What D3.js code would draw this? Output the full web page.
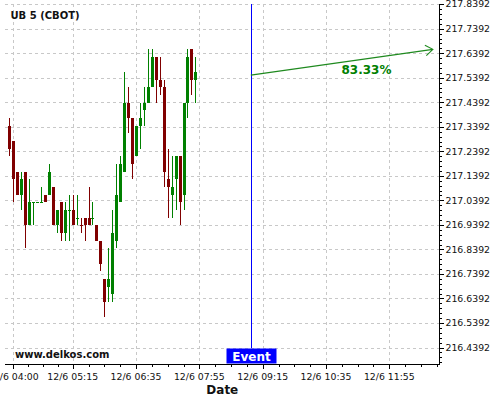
<!DOCTYPE html>
<html><head><meta charset="utf-8">
<script src="https://cdn.jsdelivr.net/npm/d3@7"></script>
<style>body{margin:0;background:#fff}svg{display:block;font-family:"DejaVu Sans",sans-serif}</style>
</head><body><svg id="c" width="500" height="400"></svg>
<script>
// ---- data ----
const title = "UB 5 (CBOT)";
const times = ["03:55","04:00","04:05","04:10","04:15","04:20","04:25","04:30","04:35","04:40","04:45","04:50",
  "04:55","05:00","05:05","05:10","05:15","05:20","05:25","05:30","05:35","05:40","05:45","05:50",
  "05:55","06:00","06:05","06:10","06:15","06:20","06:25","06:30","06:35","06:40","06:45","06:50",
  "06:55","07:00","07:05","07:10","07:15","07:20","07:25","07:30","07:35","07:40","07:45","07:50"];
const opens = [217.34375,217.28125,217.15625,217.0625,217.15625,216.9375,217.03125,217.03125,217.03125,217.0625,217.0625,217.09375,
  216.9375,217.03125,216.90625,217.0,217.0,216.96875,216.9375,216.96875,216.96875,216.96875,216.9375,216.875,
  216.71875,216.6875,216.65625,216.875,217.03125,217.15625,217.4375,217.375,217.21875,217.34375,217.40625,217.4375,
  217.5,217.625,217.53125,217.5,217.125,217.0625,217.125,217.21875,217.0625,217.4375,217.65625,217.53125];
const highs = [217.375,217.28125,217.15625,217.15625,217.15625,217.125,217.03125,217.03125,217.09375,217.0625,217.1875,217.09375,
  217.0,217.03125,217.03125,217.0625,217.0625,217.0625,216.96875,216.96875,217.09375,217.03125,216.9375,216.875,
  216.71875,216.84375,217.0,217.1875,217.21875,217.5625,217.5,217.375,217.34375,217.4375,217.5,217.65625,
  217.65625,217.625,217.625,217.53125,217.25,217.21875,217.21875,217.21875,217.4375,217.65625,217.65625,217.625];
const lows = [217.21875,217.03125,217.0625,217.0,216.84375,216.9375,216.9375,217.03125,217.03125,217.03125,217.0625,216.9375,
  216.90625,216.875,216.875,216.875,216.9375,216.9375,216.90625,216.875,216.9375,216.9375,216.875,216.75,
  216.5625,216.625,216.625,216.84375,217.03125,217.15625,217.3125,217.125,217.21875,217.25,217.34375,217.4375,
  217.5,217.4375,217.46875,217.09375,216.96875,216.96875,217.0,216.9375,217.0,217.375,217.46875,217.4375];
const closes = [217.25,217.125,217.0625,217.125,216.9375,217.03125,217.03125,217.03125,217.03125,217.03125,217.15625,216.9375,
  217.0,216.90625,217.0,217.0,216.9375,216.96875,216.9375,216.9375,216.9375,216.96875,216.875,216.78125,
  216.625,216.71875,216.90625,217.0625,217.1875,217.4375,217.375,217.1875,217.34375,217.375,217.4375,217.5,
  217.625,217.53125,217.5,217.15625,217.09375,217.09375,217.21875,217.03125,217.4375,217.625,217.53125,217.5625];
const xTickTimes = ["04:00","05:15","06:35","07:55","09:15","10:35","11:55"];
const xTickLabels = ["12/6 04:00","12/6 05:15","12/6 06:35","12/6 07:55","12/6 09:15","12/6 10:35","12/6 11:55"];
const yTickValues = [216.4392,216.5392,216.6392,216.7392,216.8392,216.9392,217.0392,217.1392,217.2392,217.3392,217.4392,217.5392,217.6392,217.7392,217.8392];
const eventTime = "09:00";
const eventLabel = "Event";
const arrowTimes = ["09:00","12:50"];
const arrowPrices = [217.55,217.655];
const arrowLabel = "83.33%";
const watermark = "www.delkos.com";
const xTitle = "Date";

// ---- layout ----
const svg = d3.select("#c");
const parse = d3.timeParse("%H:%M");
const pL = 5.4, pR = 439.2, pT = 4, pB = 364;
const x = d3.scaleTime().domain([parse("03:50"), parse("12:58")]).range([pL, pR]);
const y = d3.scaleLinear().domain([216.372, 217.84]).range([pB, pT]);
const up = "#008000", down = "#800000", grid = "#c8c8c8";

// grid
const gx = xTickTimes.map(parse);
svg.append("g").selectAll("line").data(yTickValues).join("line")
  .attr("x1", pL).attr("x2", pR).attr("y1", d => Math.round(y(d)) + 0.5).attr("y2", d => Math.round(y(d)) + 0.5)
  .attr("stroke", grid).attr("stroke-dasharray", "3,3").attr("shape-rendering", "crispEdges");
svg.append("g").selectAll("line").data(gx).join("line")
  .attr("x1", d => Math.round(x(d)) + 0.5).attr("x2", d => Math.round(x(d)) + 0.5).attr("y1", pT).attr("y2", pB)
  .attr("stroke", grid).attr("stroke-dasharray", "3,3").attr("shape-rendering", "crispEdges");

// title + watermark
svg.append("text").attr("x", 10.5).attr("y", 19.3).attr("font-size", 10).attr("font-weight", "bold").attr("fill", "#111").text(title);
svg.append("text").attr("x", 15).attr("y", 357.5).attr("font-size", 10).attr("font-weight", "bold").attr("fill", "#111").text(watermark);

// candles
const data = times.map((t, i) => ({t: parse(t), o: opens[i], h: highs[i], l: lows[i], c: closes[i],
  upc: closes[i] > opens[i] || (closes[i] === opens[i] && (i === 0 || closes[i] >= closes[i - 1]))}));
const cg = svg.append("g").attr("shape-rendering", "crispEdges");
cg.selectAll("line").data(data).join("line")
  .attr("x1", d => Math.round(x(d.t)) + 0.5).attr("x2", d => Math.round(x(d.t)) + 0.5)
  .attr("y1", d => y(d.h)).attr("y2", d => y(d.l))
  .attr("stroke", d => d.upc ? up : down).attr("stroke-width", 1);
cg.selectAll("rect").data(data).join("rect")
  .attr("x", d => Math.round(x(d.t)) - 1).attr("width", 3)
  .attr("y", d => y(Math.max(d.o, d.c)))
  .attr("height", d => Math.max(1, Math.abs(y(d.o) - y(d.c))))
  .attr("fill", d => d.upc ? up : down);

// event line + box
const ex = Math.round(x(parse(eventTime))) + 0.5;
svg.append("line").attr("x1", ex).attr("x2", ex).attr("y1", pT).attr("y2", 348)
  .attr("stroke", "#0000ff").attr("shape-rendering", "crispEdges");
svg.append("rect").attr("x", ex - 25).attr("y", 348.5).attr("width", 50).attr("height", 15).attr("fill", "#0000ff");
svg.append("text").attr("x", ex).attr("y", 361).attr("text-anchor", "middle").attr("font-size", 12)
  .attr("font-weight", "bold").attr("fill", "#fff").text(eventLabel);

// arrow
const ax0 = x(parse(arrowTimes[0])), ay0 = y(arrowPrices[0]), ax1 = x(parse(arrowTimes[1])), ay1 = y(arrowPrices[1]);
const ang = Math.atan2(ay1 - ay0, ax1 - ax0), hl = 9, ha = 0.62;
svg.append("path")
  .attr("d", `M${ax0},${ay0}L${ax1},${ay1}M${ax1 - hl * Math.cos(ang - ha)},${ay1 - hl * Math.sin(ang - ha)}L${ax1},${ay1}L${ax1 - hl * Math.cos(ang + ha)},${ay1 - hl * Math.sin(ang + ha)}`)
  .attr("fill", "none").attr("stroke", "#1f8a1f").attr("stroke-width", 1.1);
svg.append("text").attr("x", 366.5).attr("y", 74).attr("text-anchor", "middle").attr("font-size", 12)
  .attr("font-weight", "bold").attr("fill", "#008000").text(arrowLabel);

// axes
const ag = svg.append("g").attr("shape-rendering", "crispEdges");
ag.append("line").attr("x1", pL).attr("x2", pR + 0.5).attr("y1", pB + 0.5).attr("y2", pB + 0.5).attr("stroke", "#000");
ag.append("line").attr("x1", Math.round(pR) + 0.5).attr("x2", Math.round(pR) + 0.5).attr("y1", pT).attr("y2", pB + 1).attr("stroke", "#000");
// x minor ticks: quarter divisions between labelled ticks, continued after last
const minorX = [];
for (let i = 0; i < gx.length; i++) {
  const a = gx[i], b = i < gx.length - 1 ? gx[i + 1] : new Date(+gx[i] + (gx[i] - gx[i - 1]));
  for (let k = 1; k < 4; k++) minorX.push(new Date(+a + (b - a) * k / 4));
}
ag.selectAll(".mx").data(minorX.filter(d => x(d) <= pR)).join("line")
  .attr("x1", d => Math.round(x(d)) + 0.5).attr("x2", d => Math.round(x(d)) + 0.5)
  .attr("y1", pB + 1).attr("y2", pB + 3).attr("stroke", "#000");
ag.selectAll(".Mx").data(gx).join("line")
  .attr("x1", d => Math.round(x(d)) + 0.5).attr("x2", d => Math.round(x(d)) + 0.5)
  .attr("y1", pB + 1).attr("y2", pB + 5).attr("stroke", "#000");
svg.append("g").selectAll("text").data(gx).join("text")
  .attr("x", d => x(d)).attr("y", 380).attr("text-anchor", "middle").attr("font-size", 9.33).attr("fill", "#111")
  .text((d, i) => xTickLabels[i]);
svg.append("text").attr("x", (pL + pR) / 2).attr("y", 393.5).attr("text-anchor", "middle")
  .attr("font-size", 12).attr("font-weight", "bold").attr("fill", "#111").text(xTitle);
// y ticks
const minorY = d3.range(0, 74).map(k => yTickValues[0] - 0.06 + k * 0.02).filter(v => y(v) >= pT - 0.5 && y(v) <= pB);
ag.selectAll(".my").data(minorY).join("line")
  .attr("x1", Math.round(pR) + 1).attr("x2", Math.round(pR) + 3)
  .attr("y1", d => Math.round(y(d)) + 0.5).attr("y2", d => Math.round(y(d)) + 0.5).attr("stroke", "#000");
ag.selectAll(".My").data(yTickValues).join("line")
  .attr("x1", Math.round(pR) + 1).attr("x2", Math.round(pR) + 5)
  .attr("y1", d => Math.round(y(d)) + 0.5).attr("y2", d => Math.round(y(d)) + 0.5).attr("stroke", "#000");
svg.append("g").selectAll("text").data(yTickValues).join("text")
  .attr("x", 445.5).attr("y", d => y(d)).attr("dy", "0.35em").attr("font-size", 9.33).attr("fill", "#111")
  .text(d => d.toFixed(4));
</script></body></html>
